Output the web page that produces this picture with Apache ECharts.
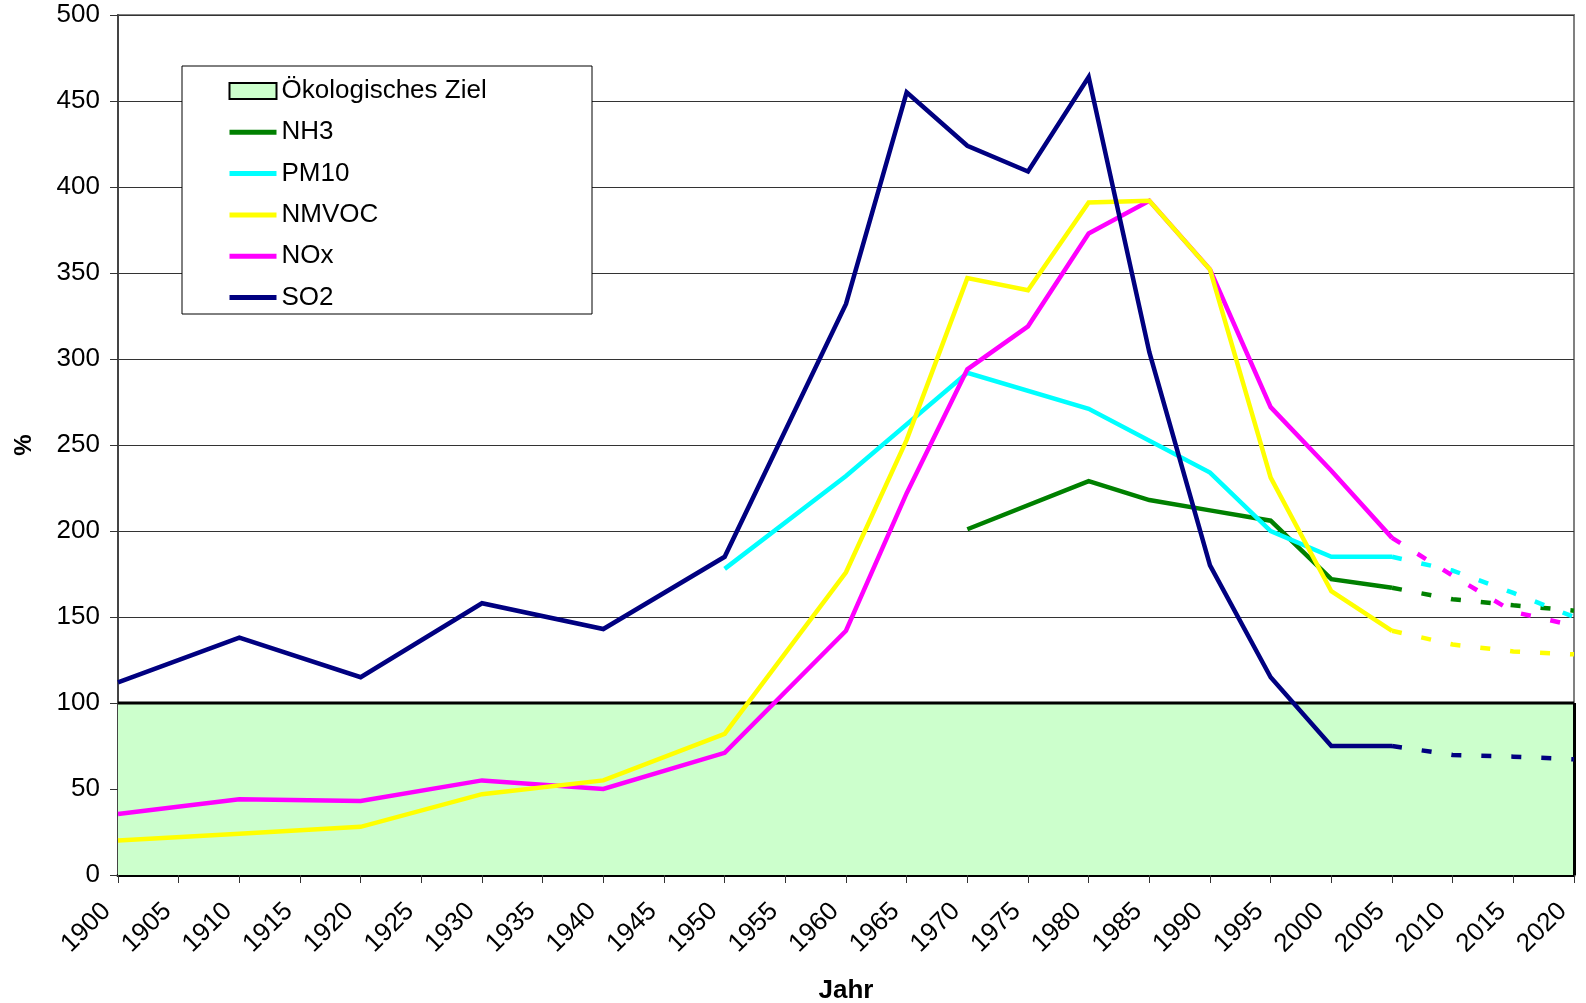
<!DOCTYPE html>
<html>
<head>
<meta charset="utf-8">
<script src="https://cdn.jsdelivr.net/npm/echarts@6/dist/echarts.min.js"></script>
<style>
  html, body { margin: 0; padding: 0; background: #fff; }
  #chart { width: 1586px; height: 1003px; }
</style>
</head>
<body>
<div id="chart"></div>
<script>
// ---- data ----
const years = [1900, 1910, 1920, 1930, 1940, 1950, 1960, 1965, 1970, 1975, 1980, 1985, 1990, 1995, 2000, 2005];
const so2   = [112, 138, 115, 158, 143, 185, 332, 455, 424, 409, 464, 304, 180, 115, 75, 75];
const nox   = [35.5, 44, 43, 55, 50, 71, 142, 222, 294, 319, 373, 392, 352, 272, 235, 196];
const nmvoc = [20, 24, 28, 47, 55, 82, 176, 253, 347, 340, 391, 392, 352, 231, 165, 142];
const pm10  = [null, null, null, null, null, 178, 232, null, 292, null, 271, null, 234, 200, 185, 185];
const nh3   = [null, null, null, null, null, null, null, null, 201, null, 229, 218, 212, 206, 172, 167];

const projYears  = [2005, 2010, 2015, 2020];
const so2Proj    = [75, 69.8, 68.8, 67.3];
const noxProj    = [196, 174, 153, 145];
const nmvocProj  = [142, 134, 130, 128.3];
const pm10Proj   = [185, 177, 164, 150];
const nh3Proj    = [167, 160.3, 156.8, 153.7];

const zielYears  = [1900, 2020];
const zielValues = [100, 100];

const xTickInterval = 5;

// ---- helpers ----
function pairs(xs, ys) {
  const out = [];
  xs.forEach((x, i) => { if (ys[i] !== null && ys[i] !== undefined) out.push([x, ys[i]]); });
  return out;
}

const colors = {
  NH3: '#008000',
  PM10: '#00FFFF',
  NMVOC: '#FFFF00',
  NOx: '#FF00FF',
  SO2: '#000080'
};
const LW = 4.5;
const FONT = 'Liberation Sans, Arial, sans-serif';

function solid(name, ys, z) {
  return {
    name: name, type: 'line', data: pairs(years, ys), symbol: 'none', z: z,
    lineStyle: { color: colors[name], width: LW, join: 'miter' },
    itemStyle: { color: colors[name] },
    animation: false
  };
}
function dashed(name, ys, z) {
  return {
    name: name + ' Prognose', type: 'line', data: pairs(projYears, ys), symbol: 'none', z: z,
    lineStyle: { color: colors[name], width: LW, type: [10, 20] },
    itemStyle: { color: colors[name] },
    animation: false
  };
}
function legendLine(name) {
  return { name: name, itemStyle: { opacity: 0 }, lineStyle: { width: 5, color: colors[name] } };
}

const chart = echarts.init(document.getElementById('chart'), null, { renderer: 'canvas' });

const option = {
  backgroundColor: '#ffffff',
  animation: false,
  textStyle: { fontFamily: FONT },
  grid: {
    left: 118, top: 15, right: 12, bottom: 128,
    outerBoundsMode: 'none', containLabel: false,
    show: true, borderColor: '#808080', borderWidth: 2, backgroundColor: 'transparent'
  },
  graphic: [{
    type: 'rect', z: 3,
    shape: { x: 182, y: 66, width: 410, height: 248 },
    style: { fill: '#ffffff', stroke: '#000000', lineWidth: 1 }
  }],
  legend: {
    orient: 'vertical', left: 227, top: 77, padding: 0, z: 10,
    itemWidth: 47, itemHeight: 16, itemGap: 13.3,
    lineStyle: { width: 5 },
    textStyle: { fontSize: 26, color: '#000', lineHeight: 28, fontFamily: FONT },
    data: [
      { name: 'Ökologisches Ziel', icon: 'rect', itemStyle: { color: '#CCFFCC', borderColor: '#000', borderWidth: 2, opacity: 1 } },
      legendLine('NH3'), legendLine('PM10'), legendLine('NMVOC'), legendLine('NOx'), legendLine('SO2')
    ]
  },
  xAxis: {
    type: 'value', min: 1900, max: 2020, interval: xTickInterval,
    name: 'Jahr', nameLocation: 'middle', nameGap: 103,
    nameTextStyle: { fontSize: 26, fontWeight: 'bold', color: '#000', fontFamily: FONT },
    axisLine: { show: true, onZero: false, lineStyle: { color: '#000', width: 3 } },
    axisTick: { show: true, length: 8, lineStyle: { color: '#333', width: 1 } },
    axisLabel: { rotate: 45, fontSize: 26, color: '#000', margin: 21, padding: [0, 16, 0, 0], formatter: v => String(v) },
    splitLine: { show: false }
  },
  yAxis: {
    type: 'value', min: 0, max: 500, interval: 50,
    name: '%', nameLocation: 'middle', nameGap: 82, nameRotate: 90,
    nameTextStyle: { fontSize: 24, fontWeight: 'bold', color: '#000', fontFamily: FONT },
    axisLine: { show: true, lineStyle: { color: '#444', width: 2 } },
    axisTick: { show: true, length: 8, lineStyle: { color: '#333', width: 1 } },
    axisLabel: { fontSize: 26, color: '#000', margin: 18 },
    splitLine: { show: true, lineStyle: { color: '#333', width: 1 } }
  },
  series: [
    {
      name: 'Ökologisches Ziel', type: 'line', data: pairs(zielYears, zielValues), symbol: 'none', z: 1,
      lineStyle: { color: '#000', width: 3 },
      itemStyle: { color: '#CCFFCC' },
      areaStyle: { color: '#CCFFCC', opacity: 1, origin: 'start' },
      markLine: {
        silent: true, symbol: ['none', 'none'], label: { show: false },
        lineStyle: { color: '#000', width: 3, type: 'solid' },
        data: [[{ coord: [2020, 0] }, { coord: [2020, 100] }]]
      },
      animation: false
    },
    solid('NH3', nh3, 2),
    solid('PM10', pm10, 3),
    solid('NOx', nox, 4),
    solid('NMVOC', nmvoc, 5),
    solid('SO2', so2, 6),
    dashed('NH3', nh3Proj, 2),
    dashed('PM10', pm10Proj, 3),
    dashed('NOx', noxProj, 4),
    dashed('NMVOC', nmvocProj, 5),
    dashed('SO2', so2Proj, 6)
  ]
};
chart.setOption(option);
</script>
</body>
</html>
